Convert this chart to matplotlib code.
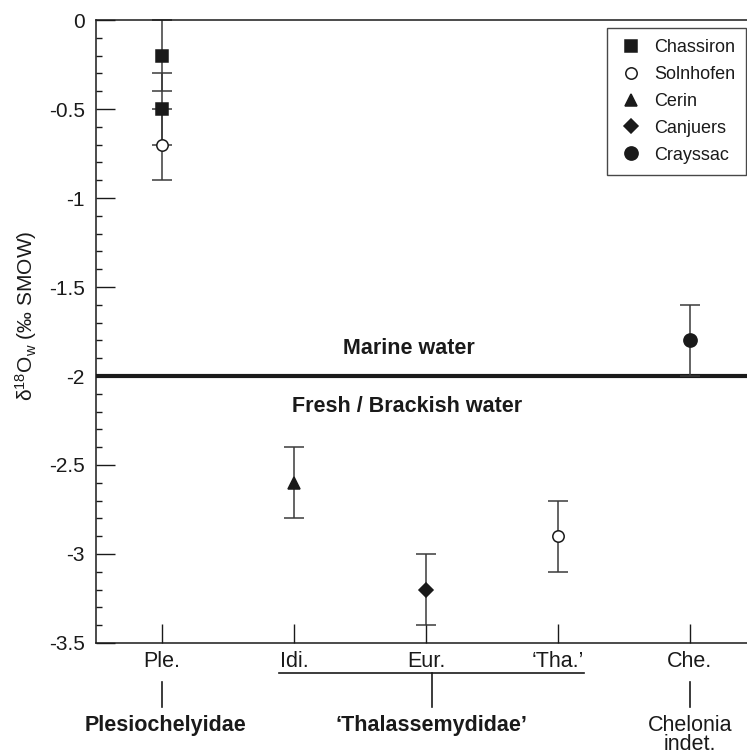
import matplotlib
matplotlib.use("Agg")
import matplotlib.pyplot as plt
from matplotlib.lines import Line2D
from matplotlib.ticker import MultipleLocator
from matplotlib.transforms import blended_transform_factory

plt.rcParams['font.family'] = ['Liberation Sans', 'DejaVu Sans']
plt.rcParams['mathtext.default'] = 'regular'

# taxa along the x axis
taxa = ['Ple.', 'Idi.', 'Eur.', '\u2018Tha.\u2019', 'Che.']
taxa_pos = [1, 2, 3, 4, 5]

# d18Ow values per site (x = taxon position)
chassiron_x = [1, 1]
chassiron_y = [-0.2, -0.5]
solnhofen_x = [1, 4]
solnhofen_y = [-0.7, -2.9]
cerin_x = [2]
cerin_y = [-2.6]
canjuers_x = [3]
canjuers_y = [-3.2]
crayssac_x = [5]
crayssac_y = [-1.8]
err = 0.2

marine_limit = -2.0

fig = plt.figure(figsize=(7.47, 7.56), dpi=100)
ax = fig.add_axes([0.1285, 0.1495, 0.8715, 0.824])

ink = '#1a1a1a'
barc = '#3a3a3a'

ax.axhline(marine_limit, color=ink, lw=3, zorder=1)

series = [
    (chassiron_x, chassiron_y, 's', 8.6, ink, 'Chassiron'),
    (solnhofen_x, solnhofen_y, 'o', 8.2, 'white', 'Solnhofen'),
    (cerin_x, cerin_y, '^', 9, ink, 'Cerin'),
    (canjuers_x, canjuers_y, 'D', 7, ink, 'Canjuers'),
    (crayssac_x, crayssac_y, 'o', 9.5, ink, 'Crayssac'),
]
for xs, ys, m, ms, fc, lab in series:
    ax.errorbar(xs, ys, yerr=err, fmt='none', ecolor=barc, elinewidth=1.1,
                capsize=7, capthick=1.1, zorder=2, clip_on=False)
for xs, ys, m, ms, fc, lab in series:
    ax.plot(xs, ys, linestyle='none', marker=m, markersize=ms,
            markerfacecolor=fc, markeredgecolor=ink, markeredgewidth=1.1,
            zorder=3, clip_on=False)

ax.text(2.87, -1.848, 'Marine water', ha='center', va='center',
        fontsize=15.5, fontweight='bold', color=ink)
ax.text(2.86, -2.174, 'Fresh / Brackish water', ha='center', va='center',
        fontsize=15.5, fontweight='bold', color=ink)

ax.set_xlim(0.5, 5.432)
ax.set_ylim(-3.5, 0)
ax.set_xticks(taxa_pos)
ax.set_xticklabels(taxa)
ax.set_yticks([-3.5, -3, -2.5, -2, -1.5, -1, -0.5, 0])
ax.set_yticklabels(['-3.5', '-3', '-2.5', '-2', '-1.5', '-1', '-0.5', '0'])
ax.yaxis.set_minor_locator(MultipleLocator(0.1))

ax.tick_params(axis='both', which='major', direction='in', length=14,
               width=1, color=ink, labelcolor=ink)
ax.tick_params(axis='y', which='major', pad=8, labelsize=15)
ax.tick_params(axis='x', which='major', pad=6, labelsize=15.5)
ax.tick_params(axis='y', which='minor', direction='in', length=4.5,
               width=1, color=ink)
ax.xaxis.set_ticks_position('bottom')
ax.yaxis.set_ticks_position('left')
ax.spines['right'].set_visible(False)
for s in ['left', 'top', 'bottom']:
    ax.spines[s].set_color(ink)
    ax.spines[s].set_linewidth(1.1)

ax.set_ylabel('\u03b4$^{18}$O$_w$ (\u2030 SMOW)', fontsize=15, color=ink)
ax.yaxis.set_label_coords(-0.088, 0.525)

handles = [Line2D([], [], linestyle='none', marker=m, markersize=ms,
                  markerfacecolor=fc, markeredgecolor=ink, markeredgewidth=1.1)
           for xs, ys, m, ms, fc, lab in series]
leg = ax.legend(handles, [s[5] for s in series], loc='upper right',
                bbox_to_anchor=(0.999, 0.987), borderaxespad=0,
                fontsize=13, frameon=True, fancybox=False,
                handlelength=1.4, handletextpad=0.6, labelspacing=0.55,
                borderpad=0.6)
leg.get_frame().set_edgecolor(ink)
leg.get_frame().set_linewidth(1.0)
for t in leg.get_texts():
    t.set_color(ink)

# group annotations under the axis
trans = blended_transform_factory(ax.transData, fig.transFigure)
y_bracket = 1 - 673 / 756.
y_low = 1 - 707 / 756.
ax.plot([1.886, 4.197], [y_bracket, y_bracket], color=ink, lw=1.2,
        transform=trans, clip_on=False)
for xv in [1, 3.043, 5]:
    ax.plot([xv, xv], [1 - 682 / 756. if xv != 3.043 else y_bracket, y_low],
            color=ink, lw=1.2, transform=trans, clip_on=False)
y_lab = 1 - 725 / 756.
ax.text(1.03, y_lab, 'Plesiochelyidae', transform=trans, ha='center',
        va='center', fontsize=15.5, fontweight='bold', color=ink)
ax.text(3.043, y_lab, '\u2018Thalassemydidae\u2019', transform=trans,
        ha='center', va='center', fontsize=15.5, fontweight='bold', color=ink)
ax.text(5, 1 - 735 / 756., 'Chelonia\nindet.', transform=trans, ha='center',
        va='center', fontsize=15.5, color=ink, linespacing=0.9)

fig.savefig('out.png', dpi=100)
